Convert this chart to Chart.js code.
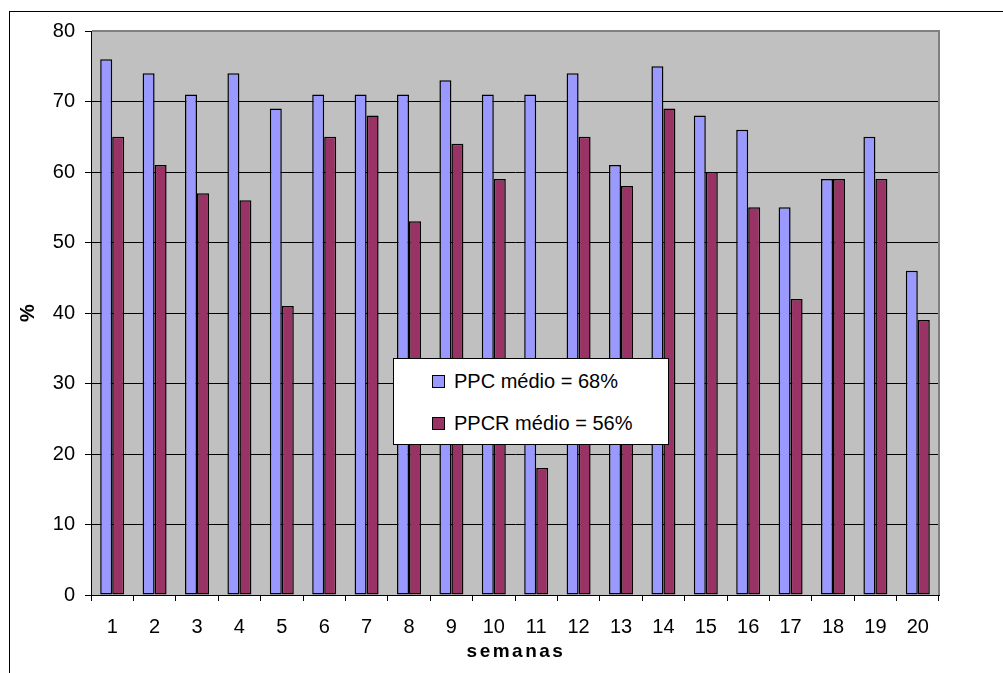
<!DOCTYPE html>
<html><head><meta charset="utf-8">
<script src="https://cdn.jsdelivr.net/npm/chart.js@4"></script>
<style>
html,body{margin:0;padding:0;background:#fff;}
#wrap{position:relative;width:1003px;height:673px;overflow:hidden;background:#fff;}
#frame{position:absolute;left:9px;top:11px;width:1100px;height:800px;border-left:1px solid #000;border-top:1px solid #000;}
#c{position:absolute;left:0;top:0;}
#legend{position:absolute;left:393px;top:358px;width:274px;height:85px;background:#fff;border:1px solid #000;font-family:'Liberation Sans',Arial,sans-serif;font-size:20px;color:#000;}
.row{position:absolute;left:38px;height:24px;display:flex;align-items:center;white-space:nowrap;}
.sw{width:11px;height:11px;border:1px solid #000;margin-right:9px;flex:none;}
</style></head>
<body>
<div id="wrap">
<div id="frame"></div>
<canvas id="c" width="1003" height="673"></canvas>
<div id="legend"></div>
</div>
<script>
const categories = ['1','2','3','4','5','6','7','8','9','10','11','12','13','14','15','16','17','18','19','20'];
const ppc  = [76,74,71,74,69,71,71,71,73,71,71,74,61,75,68,66,55,59,65,46];
const ppcr = [65,61,57,56,41,65,68,53,64,59,18,65,58,69,60,55,42,59,59,39];
const seriesLabels = ['PPC médio = 68%','PPCR médio = 56%'];
const seriesColors = ['#9999FF','#993366'];
const yMin = 0, yMax = 80, yStep = 10;
const xTitle = 'semanas';
const yTitle = '%';

const FONT = "'Liberation Sans', Arial, sans-serif";

const plotBg = {
  id: 'plotBg',
  beforeDraw(c) {
    const {ctx, chartArea: a} = c;
    ctx.save();
    ctx.fillStyle = '#C0C0C0';
    ctx.fillRect(a.left, a.top, a.right - a.left, a.bottom - a.top);
    ctx.restore();
  },
  afterDraw(c) {
    const {ctx, chartArea: a} = c;
    ctx.save();
    ctx.strokeStyle = '#808080';
    ctx.lineWidth = 2;
    ctx.beginPath();
    ctx.moveTo(a.left + 1, a.top);
    ctx.lineTo(a.right, a.top);
    ctx.lineTo(a.right, a.bottom);
    ctx.stroke();
    // x axis title
    ctx.fillStyle = '#000';
    ctx.font = "bold 19px " + FONT;
    ctx.letterSpacing = '2.5px';
    ctx.textAlign = 'center';
    ctx.textBaseline = 'middle';
    ctx.fillText(xTitle, (a.left + a.right) / 2 + 1, 652);
    ctx.restore();
  }
};

const chart = new Chart(document.getElementById('c'), {
  type: 'bar',
  data: {
    labels: categories,
    datasets: [
      {label: seriesLabels[0], data: ppc, backgroundColor: seriesColors[0], borderColor: '#000', borderWidth: 1.5, borderSkipped: false},
      {label: seriesLabels[1], data: ppcr, backgroundColor: seriesColors[1], borderColor: '#000', borderWidth: 1.5, borderSkipped: false}
    ]
  },
  options: {
    responsive: false,
    animation: false,
    devicePixelRatio: 1,
    categoryPercentage: 0.566,
    barPercentage: 1,
    layout: {padding: {left: 0, top: 31, right: 64, bottom: 0}},
    plugins: {legend: {display: false}, tooltip: {enabled: false}},
    scales: {
      x: {
        grid: {offset: true, drawOnChartArea: false, drawTicks: true, tickLength: 6, color: '#000', lineWidth: 1},
        border: {display: true, color: '#000', width: 1},
        ticks: {color: '#000', font: {family: FONT, size: 20}, padding: 14, maxRotation: 0, autoSkip: false},
        afterFit(s) { s.height = 78; }
      },
      y: {
        min: yMin, max: yMax,
        ticks: {stepSize: yStep, color: '#000', font: {family: FONT, size: 20}, padding: 10},
        grid: {color: '#000', tickLength: 6, lineWidth: 1},
        border: {display: true, color: '#000', width: 1},
        title: {display: true, text: yTitle, color: '#000', font: {family: FONT, size: 20, weight: 'bold'}, padding: {top: 16, bottom: 0}},
        afterFit(s) { s.width = 91; }
      }
    }
  },
  plugins: [plotBg]
});

// HTML legend built from the chart's datasets
const lg = document.getElementById('legend');
const rowTops = [10, 52];
chart.data.datasets.forEach((ds, i) => {
  const row = document.createElement('div');
  row.className = 'row';
  row.style.top = rowTops[i] + 'px';
  const sw = document.createElement('span');
  sw.className = 'sw';
  sw.style.background = ds.backgroundColor;
  const tx = document.createElement('span');
  tx.textContent = ds.label;
  row.appendChild(sw);
  row.appendChild(tx);
  lg.appendChild(row);
});
</script>
</body></html>
